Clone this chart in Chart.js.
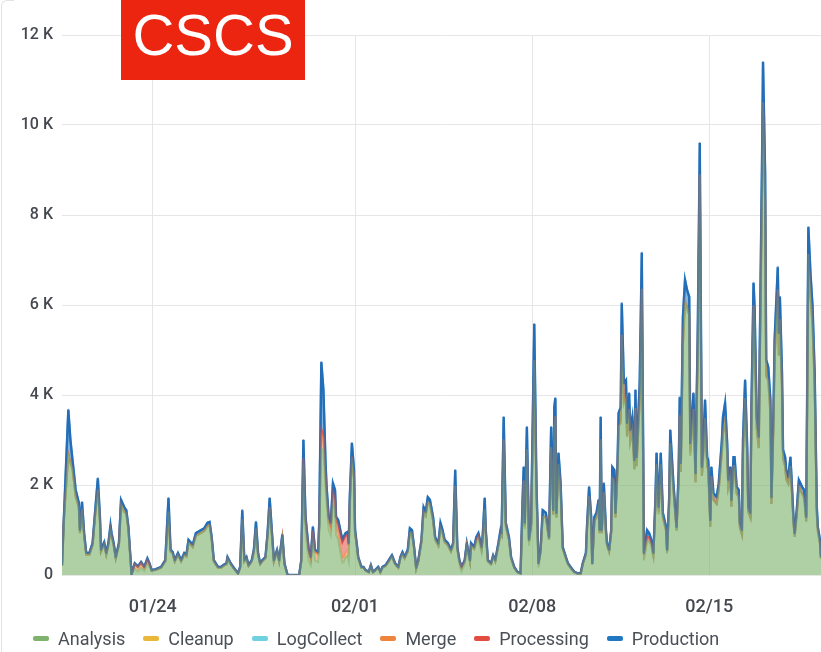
<!DOCTYPE html>
<html>
<head>
<meta charset="utf-8">
<script src="https://cdn.jsdelivr.net/npm/chart.js@4.4.1/dist/chart.umd.min.js"></script>
<style>
  html, body { margin: 0; padding: 0; background: #fff; }
  #wrap { position: relative; width: 821px; height: 652px; overflow: hidden; }
  #panel-edge { position: absolute; left: 1px; top: 0; width: 12px; height: 652px;
    border-left: 1px solid #e2e3e6; border-top: 1px solid #e2e3e6; border-top-left-radius: 6px; }
  #badge { position: absolute; left: 121px; top: 0; width: 184px; height: 80px;
    background: #ec2511; color: #fff; font-family: "Liberation Sans", Arial, sans-serif;
    font-size: 58px; line-height: 70px; text-align: center; }
  #legend { position: absolute; left: 33px; top: 626px; height: 24px; display: flex;
    align-items: center; font-family: Roboto, sans-serif; font-size: 18px; color: #4b4f56; }
  #legend .item { display: flex; align-items: center; margin-right: 18px; white-space: nowrap; }
  #legend .mark { width: 16px; height: 5px; border-radius: 2px; margin-right: 9px; }
  canvas { position: absolute; left: 0; top: 0; }
</style>
</head>
<body>
<div id="wrap">
  <div id="panel-edge"></div>
  <canvas id="chart-canvas" width="821" height="652"></canvas>
  <div id="badge">CSCS</div>
  <div id="legend"></div>
</div>
<script>
// hours since 01/20 10:00 (30 day window)
const hours = [
  0, 2, 6, 8, 10, 13, 16, 17, 19, 21, 23, 26, 29, 31, 34,
  36, 37, 40, 42, 44, 46, 47, 49, 51, 54, 56, 59, 61, 63, 64,
  66, 69, 72, 75, 78, 81, 83, 85, 89, 94, 98, 101, 103, 105, 107,
  110, 113, 116, 118, 120, 124, 127, 132, 135, 138, 140, 142, 144, 148, 151,
  153, 156, 157, 160, 163, 167, 169, 171, 173, 175, 177, 180, 182, 184, 186,
  188, 190, 193, 195, 197, 199, 201, 204, 206, 209, 211, 214, 225, 227, 229,
  231, 234, 236, 238, 240, 243, 244, 246, 248, 250, 251, 253, 255, 257, 259,
  260, 262, 264, 266, 267, 269, 271, 272, 273, 275, 277, 278, 280, 281, 284,
  286, 288, 291, 293, 295, 297, 300, 302, 304, 307, 310, 313, 316, 319, 321,
  323, 325, 328, 330, 332, 334, 336, 338, 341, 343, 345, 347, 349, 352, 354,
  357, 359, 361, 363, 366, 369, 371, 373, 375, 377, 379, 382, 384, 387, 388,
  391, 393, 395, 398, 399, 401, 402, 404, 407, 409, 411, 414, 416, 417, 419,
  421, 424, 426, 429, 432, 435, 437, 438, 439, 441, 443, 445, 448, 450, 452,
  454, 456, 459, 462, 464, 466, 467, 468, 469, 471, 473, 475, 478, 480, 483,
  486, 489, 492, 494, 497, 498, 500, 502, 503, 505, 507, 509, 510, 511, 512,
  514, 516, 517, 519, 521, 522, 524, 525, 527, 528, 530, 531, 533, 535, 536,
  538, 539, 541, 543, 544, 545, 548, 550, 552, 555, 557, 559, 561, 563, 564,
  566, 568, 570, 573, 574, 576, 577, 580, 582, 583, 585, 586, 587, 589, 591,
  593, 595, 596, 599, 601, 602, 603, 605, 607, 608, 610, 612, 613, 615, 616,
  618, 621, 623, 626, 627, 629, 631, 632, 634, 635, 637, 638, 640, 642, 643,
  645, 646, 648, 650, 651, 653, 654, 656, 657, 659, 661, 662, 664, 665, 667,
  668, 670, 672, 673, 675, 676, 679, 680, 681, 683, 684, 686, 687, 689, 691,
  692, 694, 695, 697, 699, 702, 704, 706, 708, 710, 712, 714, 716, 717, 719, 720
];

const analysis = [
  200, 1320, 2670, 2500, 2350, 1740, 1500, 930, 1470, 870, 450, 450, 660, 1210, 1900,
  1210, 520, 680, 450, 660, 1010, 870, 660, 370, 660, 1570, 1410, 1360, 1010, 660,
  20, 140, 80, 160, 90, 240, 180, 95, 115, 160, 300, 1410, 520, 470, 300,
  450, 300, 450, 410, 720, 620, 870, 940, 980, 1090, 1110, 790, 300, 160, 160,
  200, 240, 370, 240, 140, 30, 160, 1240, 300, 370, 200, 300, 520, 1030, 450,
  240, 300, 370, 870, 1510, 930, 300, 520, 300, 830, 240, 0, 0, 300, 2450,
  940, 320, 220, 770, 320, 290, 910, 2810, 2760, 1940, 1610, 1010, 880, 1560, 1460,
  890, 790, 510, 280, 280, 390, 430, 310, 1400, 2580, 2150, 930, 580, 370, 160,
  160, 95, 60, 200, 60, 95, 160, 60, 160, 200, 300, 410, 240, 160, 370,
  470, 370, 520, 940, 930, 580, 140, 300, 730, 1410, 1320, 1610, 1570, 1210, 780,
  650, 1040, 930, 730, 660, 520, 660, 1980, 580, 220, 80, 240, 660, 300, 650,
  580, 720, 770, 500, 740, 1460, 930, 300, 240, 410, 300, 660, 900, 870, 3010,
  1080, 780, 370, 160, 60, 30, 1480, 2100, 1020, 2790, 650, 1080, 4760, 1960, 170,
  520, 1290, 1280, 780, 2840, 1340, 3280, 3530, 1280, 2460, 1890, 580, 370, 240, 140,
  60, 30, 30, 240, 450, 990, 1760, 1190, 240, 1190, 1280, 1520, 930, 3010, 930,
  1840, 930, 660, 520, 930, 2150, 2050, 1280, 2290, 3300, 3370, 5340, 3800, 3930, 3080,
  3690, 2970, 3210, 2350, 3710, 2420, 3860, 6360, 330, 750, 750, 660, 370, 1580, 2460,
  1350, 2460, 1280, 990, 480, 1580, 2920, 1890, 1280, 990, 2130, 3550, 2290, 5130, 6060,
  5930, 5780, 2650, 3690, 2060, 3590, 4820, 8900, 2200, 2510, 3490, 2420, 2350, 1070, 2200,
  1670, 1580, 1890, 2750, 3160, 3420, 2730, 1960, 2200, 1520, 2420, 2420, 1810, 1740, 1060,
  900, 2750, 3930, 2640, 1410, 1280, 3430, 5990, 5560, 3260, 2820, 4820, 8370, 10500, 8330,
  4430, 4320, 3590, 1580, 3430, 4820, 6340, 4880, 5680, 4140, 2580, 2420, 2130, 2030, 2420,
  2030, 1120, 850, 1340, 1960, 1810, 1680, 1190, 7130, 6210, 5560, 4190, 1360, 970, 700, 360
];

const production = [
  20, 80, 1000, 500, 200, 150, 100, 70, 150, 60, 40, 40, 50, 80, 250,
  80, 40, 50, 40, 50, 100, 60, 50, 30, 50, 100, 100, 80, 60, 50,
  0, 20, 20, 20, 20, 30, 20, 15, 15, 20, 30, 300, 40, 40, 30,
  40, 30, 40, 40, 60, 50, 60, 60, 60, 70, 70, 50, 30, 20, 20,
  20, 20, 30, 20, 20, 10, 20, 200, 30, 30, 20, 30, 40, 150, 40,
  20, 30, 30, 60, 200, 70, 30, 40, 30, 60, 20, 0, 0, 30, 400,
  100, 40, 30, 80, 40, 40, 100, 1500, 1000, 300, 150, 100, 80, 200, 150,
  100, 80, 70, 50, 60, 60, 60, 50, 150, 300, 150, 70, 40, 30, 20,
  20, 15, 10, 20, 10, 15, 20, 10, 20, 20, 30, 30, 20, 20, 30,
  40, 30, 40, 100, 70, 40, 20, 30, 50, 100, 80, 120, 100, 80, 60,
  50, 120, 70, 50, 50, 40, 50, 350, 40, 30, 20, 30, 50, 30, 60,
  40, 60, 60, 40, 60, 250, 70, 30, 20, 30, 30, 50, 100, 60, 500,
  80, 60, 30, 20, 10, 10, 250, 300, 80, 500, 50, 80, 800, 150, 20,
  40, 150, 100, 60, 450, 100, 450, 400, 100, 250, 150, 40, 30, 20, 20,
  10, 10, 10, 20, 40, 80, 200, 100, 20, 100, 100, 150, 70, 500, 70,
  200, 70, 50, 40, 70, 250, 200, 100, 200, 300, 300, 700, 400, 400, 300,
  350, 250, 300, 200, 400, 200, 400, 800, 40, 150, 100, 60, 40, 150, 250,
  100, 250, 100, 80, 40, 150, 300, 150, 100, 80, 200, 400, 200, 600, 500,
  400, 400, 200, 350, 200, 300, 400, 700, 200, 200, 400, 200, 200, 150, 200,
  150, 150, 150, 250, 350, 400, 200, 150, 200, 150, 200, 200, 150, 150, 100,
  100, 250, 400, 200, 100, 100, 300, 500, 400, 250, 250, 400, 700, 900, 600,
  350, 300, 300, 150, 300, 400, 500, 500, 500, 350, 200, 200, 200, 150, 200,
  150, 100, 80, 100, 150, 150, 150, 100, 600, 500, 400, 300, 150, 100, 80, 40
];

// sparse series: [hour, value], zero everywhere else
const mergePts = [
  [69, 100], [72, 80], [75, 110], [78, 70], [81, 100], [83, 60],
  [229, 150], [231, 250], [234, 200], [236, 150], [238, 220], [240, 200], [243, 180], [244, 150],
  [246, 300], [248, 300], [250, 250], [251, 200], [253, 180], [255, 150], [257, 200], [259, 180],
  [260, 150], [262, 150], [264, 120], [266, 100], [267, 100], [269, 100], [271, 120], [272, 100],
  [273, 80], [275, 50], [277, 30],
  [377, 80], [379, 80], [382, 60], [393, 60], [395, 100], [398, 80], [399, 40],
  [439, 60], [443, 80], [452, 70]
];
const processingPts = [
  [246, 100], [248, 50], [255, 50], [257, 80], [259, 100], [260, 150], [262, 200], [264, 300],
  [266, 350], [267, 400], [269, 380], [271, 350], [272, 250], [273, 100],
  [524, 80], [530, 60], [533, 60], [552, 120], [555, 100], [557, 80], [559, 60], [561, 80],
  [566, 60], [574, 40], [596, 80], [704, 60]
];
const cleanupPts = [[72, 10], [234, 15], [443, 10]];
const logCollectPts = [[246, 20], [448, 15]];

const seriesNames = ['Analysis', 'Cleanup', 'LogCollect', 'Merge', 'Processing', 'Production'];
const seriesColors = ['#7EB26D', '#EAB839', '#6ED0E0', '#EF843C', '#E24D42', '#1F78C1'];

const tickHours = [86, 278, 446, 614];
const tickLabels = ['01/24', '02/01', '02/08', '02/15'];

function expand(pts) {
  const m = new Map(pts);
  return hours.map((h) => m.get(h) || 0);
}

function toXY(values) {
  return values.map((v, i) => ({ x: hours[i], y: v }));
}

function rgba(hex, a) {
  const n = parseInt(hex.slice(1), 16);
  return `rgba(${(n >> 16) & 255}, ${(n >> 8) & 255}, ${n & 255}, ${a})`;
}

const seriesValues = [
  analysis,
  expand(cleanupPts),
  expand(logCollectPts),
  expand(mergePts),
  expand(processingPts),
  production,
];

const lineAlpha = [0.5, 0.15, 0.15, 0.5, 0.85, 1];
const lineWidth = [2, 1, 1, 1.8, 2.2, 2.4];

const datasets = seriesNames.map((name, i) => ({
  label: name,
  data: toXY(seriesValues[i]),
  borderColor: rgba(seriesColors[i], lineAlpha[i]),
  backgroundColor: rgba(seriesColors[i], i === 0 ? 0.62 : 0.55),
  borderWidth: lineWidth[i],
  fill: i === 0 ? 'origin' : '-1',
  pointRadius: 0,
  tension: 0,
}));

// Grafana draws later series on top; redraw the top line over the others
const topLine = {
  id: 'topLine',
  afterDatasetsDraw(chart) {
    const { ctx, chartArea } = chart;
    const pts = chart.getDatasetMeta(5).data;
    ctx.save();
    ctx.beginPath();
    ctx.rect(chartArea.left, chartArea.top, chartArea.right - chartArea.left, chartArea.bottom - chartArea.top);
    ctx.clip();
    ctx.beginPath();
    pts.forEach((p, i) => (i ? ctx.lineTo(p.x, p.y) : ctx.moveTo(p.x, p.y)));
    ctx.strokeStyle = 'rgba(40, 100, 175, 0.55)';
    ctx.lineWidth = 2.2;
    ctx.lineJoin = 'round';
    ctx.stroke();
    ctx.restore();
  },
};

function buildLegend() {
  const box = document.getElementById('legend');
  seriesNames.forEach((name, i) => {
    const item = document.createElement('div');
    item.className = 'item';
    const mark = document.createElement('span');
    mark.className = 'mark';
    mark.style.background = seriesColors[i];
    item.appendChild(mark);
    item.appendChild(document.createTextNode(name));
    box.appendChild(item);
  });
}

function createChart() {
  const canvas = document.getElementById('chart-canvas');
  const tickColor = '#45494f';

  const options = {
    type: 'line',
    data: { datasets },
    plugins: [topLine],
    options: {
      responsive: false,
      animation: false,
      layout: { padding: { top: 35, right: 0, left: 11, bottom: 0 } },
      scales: {
        x: {
          type: 'linear',
          min: 0,
          max: 720,
          afterBuildTicks: (scale) => {
            scale.ticks = tickHours.map((v) => ({ value: v }));
          },
          afterFit: (scale) => {
            scale.height = 77;
          },
          ticks: {
            autoSkip: false,
            maxRotation: 0,
            padding: 22,
            color: tickColor,
            font: { family: 'Roboto', size: 18, weight: '500' },
            callback: (v) => tickLabels[tickHours.indexOf(v)],
          },
          grid: { color: '#e6e6e8', drawTicks: false },
          border: { display: false },
        },
        y: {
          stacked: true,
          min: 0,
          max: 12000,
          afterFit: (scale) => {
            scale.width = 51;
          },
          ticks: {
            stepSize: 2000,
            padding: 9,
            color: tickColor,
            font: { family: 'Roboto', size: 16, weight: '500' },
            callback: (v) => (v === 0 ? '0' : v / 1000 + ' K'),
          },
          grid: { color: '#e6e6e8', drawTicks: false },
          border: { display: false },
        },
      },
      plugins: {
        tooltip: { enabled: false },
        legend: { display: false },
      },
    },
  };

  const chart = new Chart(canvas, options);
  buildLegend();
  console.log(chart.chartArea);
}

document.addEventListener('DOMContentLoaded', createChart);
</script>
</body>
</html>
